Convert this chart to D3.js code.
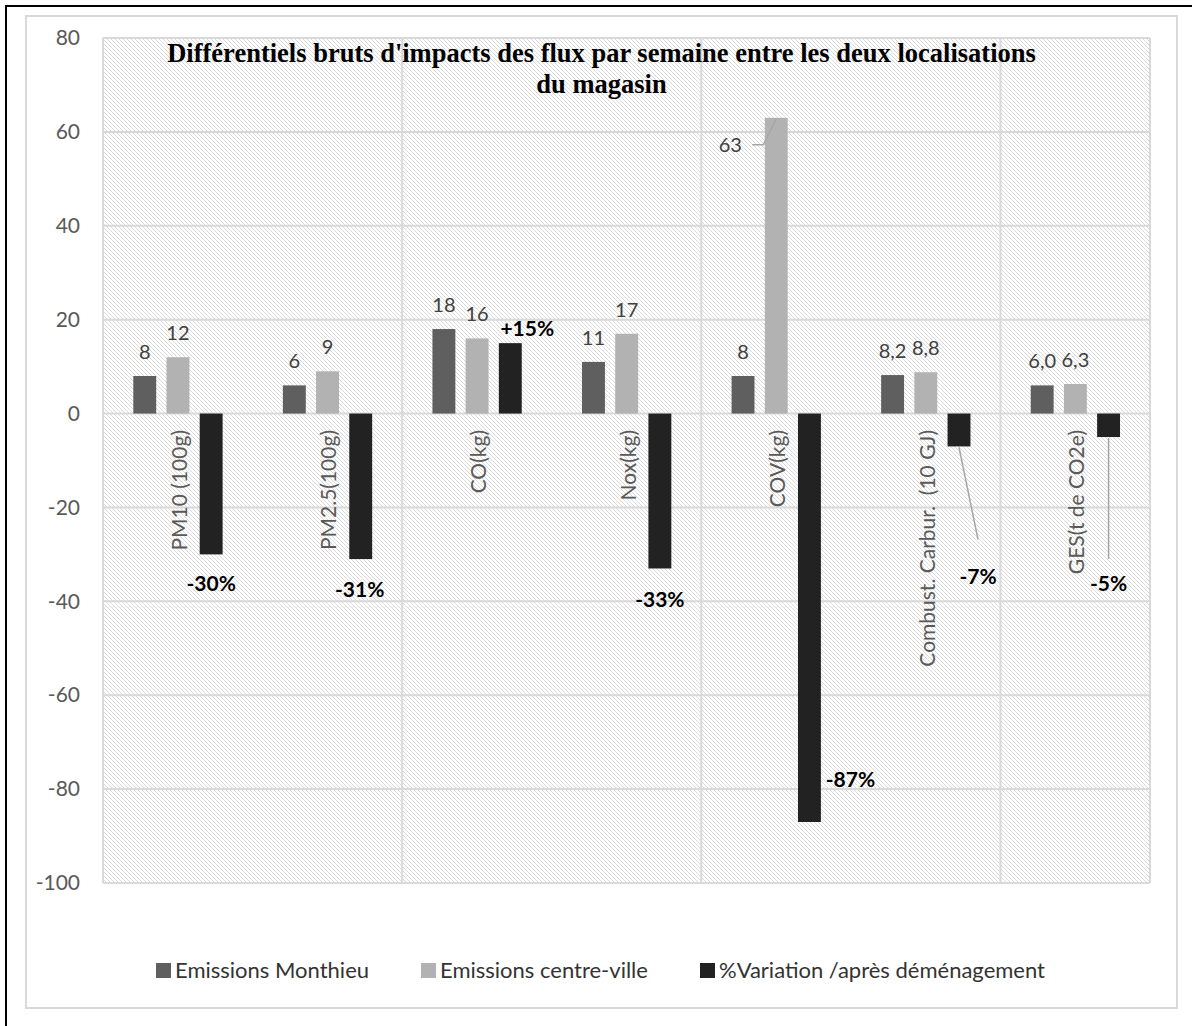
<!DOCTYPE html>
<html>
<head>
<meta charset="utf-8">
<script src="https://cdn.jsdelivr.net/npm/d3@7"></script>
<style>
  html, body { margin: 0; padding: 0; background: #ffffff; }
  svg { display: block; }
  text { white-space: pre; }
</style>
</head>
<body>
<svg id="chart" width="1192" height="1026"></svg>
<script>
// Weekly gross impact differentials between the two store locations
const titleLines = [
  "Différentiels bruts d'impacts des flux par semaine entre les deux localisations",
  "du magasin"
];
const categories = [
  "PM10 (100g)", "PM2.5(100g)", "CO(kg)", "Nox(kg)", "COV(kg)",
  "Combust. Carbur.  (10 GJ)", "GES(t de CO2e)"
];
const seriesNames = [
  "Emissions Monthieu", "Emissions centre-ville", "%Variation /après déménagement"
];
const emissionsMonthieu = [8, 6, 18, 11, 8, 8.2, 6.0];
const emissionsCentreVille = [12, 9, 16, 17, 63, 8.8, 6.3];
const variationPct = [-30, -31, 15, -33, -87, -7, -5];
const valueDecimals = [0, 0, 0, 0, 0, 1, 1];
const yTicks = [-100, -80, -60, -40, -20, 0, 20, 40, 60, 80];

// label placement tweaks for the percentage series (offsets from bar end, px)
const pctLabelLayout = [
  { dx: 0, dy: 28 },
  { dx: -1, dy: 29 },
  { dx: 17, dy: -16 },
  { dx: 0, dy: 30 },
  { dx: 41, dy: -43 },
  { dx: 19, dy: 129, leader: -36 },
  { dx: 0, dy: 145, leader: -23 }
];

const colors = ["#5f5f5f", "#b2b2b2", "#222222"];
const FONT = "Lato, 'Open Sans', sans-serif";

const svg = d3.select("#chart");
const defs = svg.append("defs");

// fine diagonal hatch for the plot area
const pat = defs.append("pattern")
  .attr("id", "hatch")
  .attr("patternUnits", "userSpaceOnUse")
  .attr("width", 4).attr("height", 4);
pat.append("rect").attr("width", 4).attr("height", 4).attr("fill", "#ffffff");
pat.append("path")
  .attr("d", "M-1,-1 L5,5 M3,-1 L5,1 M-1,3 L1,5")
  .attr("stroke", "#dadada").attr("stroke-width", 1);

// outer frame and chart area
svg.append("rect").attr("x", 6).attr("y", 6).attr("width", 1300).attr("height", 1100)
  .attr("fill", "#ffffff").attr("stroke", "#000").attr("stroke-width", 2);
svg.append("rect").attr("x", 26).attr("y", 16).attr("width", 1151).attr("height", 992)
  .attr("fill", "#ffffff").attr("stroke", "#d9d9d9").attr("stroke-width", 2);

const plot = { left: 103, right: 1150, top: 38, bottom: 883 };

const y = d3.scaleLinear().domain([-100, 80]).range([plot.bottom, plot.top]);
const x0 = d3.scaleBand().domain(categories).range([plot.left, plot.right]).padding(0);
const x1 = d3.scaleBand().domain(seriesNames).range([30.3, 119.6]).paddingInner(0.31).paddingOuter(0);

const locale = d3.formatLocale({ decimal: ",", thousands: " ", grouping: [3], currency: ["", ""], minus: "-" });

svg.append("rect")
  .attr("x", plot.left).attr("y", plot.top)
  .attr("width", plot.right - plot.left).attr("height", plot.bottom - plot.top)
  .attr("fill", "url(#hatch)");

// horizontal gridlines
svg.append("g").selectAll("line").data(yTicks).join("line")
  .attr("x1", plot.left).attr("x2", plot.right)
  .attr("y1", d => y(d)).attr("y2", d => y(d))
  .attr("stroke", "#d9d9d9").attr("stroke-width", 2);

// vertical gridlines every second category, plus plot edges
const vLines = categories.filter((c, i) => i % 2 === 0).map(c => x0(c)).concat([plot.right]);
svg.append("g").selectAll("line").data(vLines).join("line")
  .attr("x1", d => d).attr("x2", d => d)
  .attr("y1", plot.top).attr("y2", plot.bottom)
  .attr("stroke", "#d9d9d9").attr("stroke-width", 2);

// y axis labels
const yAxis = svg.append("g").attr("transform", `translate(${plot.left},0)`)
  .call(d3.axisLeft(y).tickValues(yTicks).tickSize(0).tickPadding(23).tickFormat(locale.format("d")));
yAxis.select(".domain").remove();
yAxis.selectAll("text").attr("font-family", FONT).attr("font-size", 21).attr("fill", "#595959");

// title
svg.append("g").selectAll("text").data(titleLines).join("text")
  .attr("x", 601.5).attr("y", (d, i) => 62 + i * 31)
  .attr("text-anchor", "middle")
  .attr("font-family", "'Liberation Serif', 'Times New Roman', serif")
  .attr("font-weight", "bold").attr("font-size", 26.5).attr("fill", "#000")
  .text(d => d);

// bars
const rows = categories.map((c, i) => ({
  cat: c, i,
  vals: [emissionsMonthieu[i], emissionsCentreVille[i], variationPct[i]]
}));
const barData = rows.flatMap(r => r.vals.map((v, s) => ({ cat: r.cat, i: r.i, s, v })));

svg.append("g").selectAll("rect").data(barData).join("rect")
  .attr("x", d => x0(d.cat) + x1(seriesNames[d.s]))
  .attr("width", x1.bandwidth())
  .attr("y", d => y(Math.max(0, d.v)))
  .attr("height", d => Math.abs(y(d.v) - y(0)))
  .attr("fill", d => colors[d.s]);

// category labels, rotated, hanging below the zero line
svg.append("g").selectAll("text").data(categories).join("text")
  .attr("transform", d => `translate(${x0(d) + x0.bandwidth() / 2 + 9},430) rotate(-90)`)
  .attr("text-anchor", "end")
  .attr("font-family", FONT).attr("font-size", 21).attr("fill", "#595959")
  .text(d => d);

// value labels for the emission series
const fmtVal = (v, i) => locale.format("." + valueDecimals[i] + "f")(v);
const fmtPct = locale.format("+.0f");
const barCenter = d => x0(d.cat) + x1(seriesNames[d.s]) + x1.bandwidth() / 2;

const emis = barData.filter(d => d.s < 2);
const valG = svg.append("g").attr("font-family", FONT).attr("font-size", 20).attr("fill", "#404040");
emis.forEach(d => {
  const cx = barCenter(d);
  const top = y(d.v);
  if (d.s === 1 && d.i === 4) {
    // tall bar: label pulled to the left with a leader line
    valG.append("path")
      .attr("d", `M${cx - 24},${top + 27} L${cx - 13},${top + 27} L${cx},${top + 1}`)
      .attr("fill", "none").attr("stroke", "#a6a6a6").attr("stroke-width", 1.5);
    valG.append("text").attr("x", cx - 46).attr("y", top + 34)
      .attr("text-anchor", "middle").text(fmtVal(d.v, d.i));
  } else {
    valG.append("text").attr("x", cx).attr("y", top - 17)
      .attr("text-anchor", "middle").text(fmtVal(d.v, d.i));
  }
});

// percentage labels
const pct = barData.filter(d => d.s === 2);
const pctG = svg.append("g");
pct.forEach(d => {
  const L = pctLabelLayout[d.i];
  const cx = barCenter(d);
  const end = y(d.v);
  const lx = cx + L.dx, ly = end + L.dy;
  if (L.leader !== undefined) {
    pctG.append("line")
      .attr("x1", cx).attr("y1", end + 1)
      .attr("x2", lx).attr("y2", ly + L.leader)
      .attr("stroke", "#a6a6a6").attr("stroke-width", 1.5);
  }
  pctG.append("text").attr("x", lx).attr("y", ly)
    .attr("text-anchor", "middle").attr("dominant-baseline", "central")
    .attr("font-family", FONT).attr("font-weight", "bold").attr("font-size", 21)
    .attr("fill", "#000")
    .text(fmtPct(d.v) + "%");
});

// legend
const legendX = [156, 421, 700];
const lg = svg.append("g").selectAll("g").data(seriesNames).join("g")
  .attr("transform", (d, i) => `translate(${legendX[i]},963)`);
lg.append("rect").attr("width", 15).attr("height", 15).attr("fill", (d, i) => colors[i]);
lg.append("text").attr("x", 19).attr("y", 15)
  .attr("font-family", FONT).attr("font-size", 22).attr("fill", "#333")
  .text(d => d);
</script>
</body>
</html>
